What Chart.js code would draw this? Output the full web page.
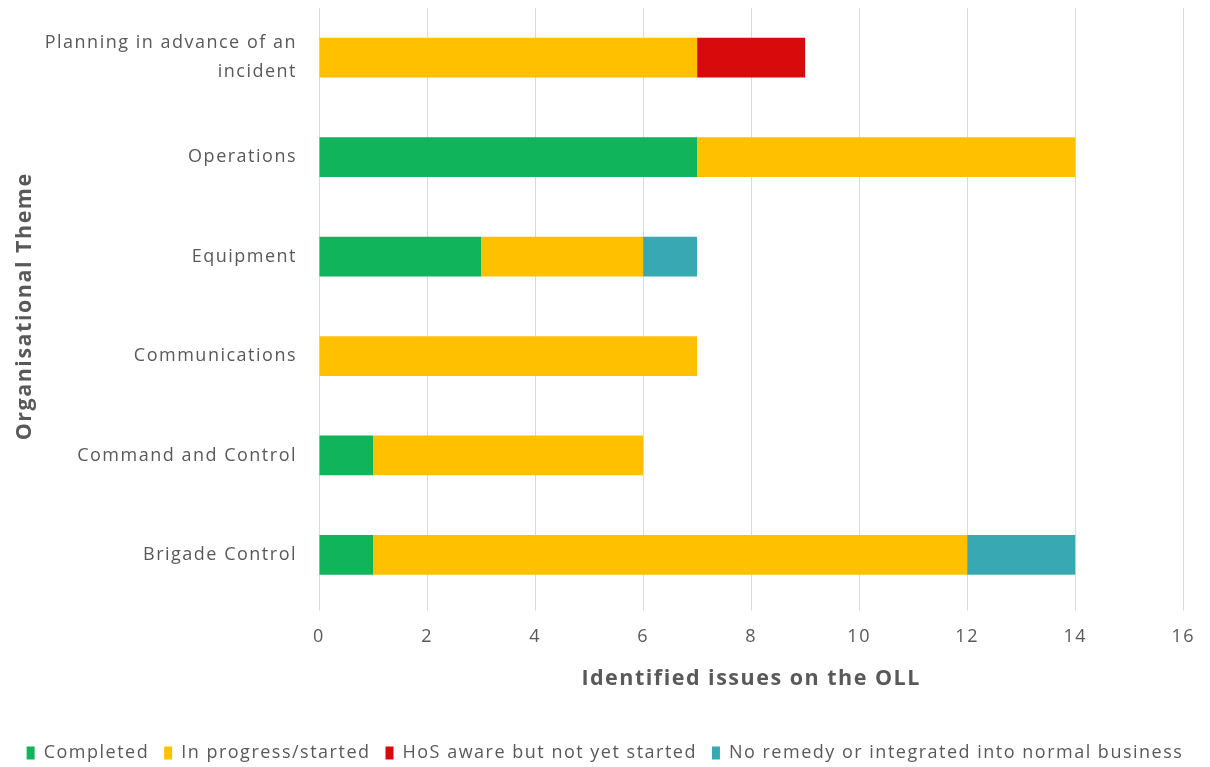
<!DOCTYPE html>
<html>
<head>
<meta charset="utf-8">
<script src="https://cdn.jsdelivr.net/npm/chart.js@4.4.1/dist/chart.umd.min.js"></script>
<style>
  html, body { margin: 0; padding: 0; background: #fff; }
  #wrap { width: 1210px; height: 767px; }
</style>
</head>
<body>
<div id="wrap"><canvas id="oll"></canvas></div>
<script>
// Themes, top to bottom as shown
const themes = [
  ['Planning in advance of an', 'incident'],
  'Operations',
  'Equipment',
  'Communications',
  'Command and Control',
  'Brigade Control'
];

// Issues per status
const completed  = [0, 7, 3, 0, 1, 1];
const inProgress = [7, 7, 3, 7, 5, 11];
const hosAware   = [2, 0, 0, 0, 0, 0];
const noRemedy   = [0, 0, 1, 0, 0, 2];

const xTicks = [0, 2, 4, 6, 8, 10, 12, 14, 16];

const font = "'Open Sans', sans-serif";
const grey = '#595959';

// the original text is set a bit wider than Open Sans, so space the letters out
const letterSpacing = {
  id: 'letterSpacing',
  beforeUpdate(chart) { chart.ctx.letterSpacing = '1.5px'; },
  beforeDraw(chart) { chart.ctx.letterSpacing = '1.5px'; }
};

const ctx = document.getElementById('oll').getContext('2d');
new Chart(ctx, {
  type: 'bar',
  data: {
    labels: themes,
    datasets: [
      { label: 'Completed', data: completed, backgroundColor: '#10b45a' },
      { label: 'In progress/started', data: inProgress, backgroundColor: '#ffc000' },
      { label: 'HoS aware but not yet started', data: hosAware, backgroundColor: '#d90a0c' },
      { label: 'No remedy or integrated into normal business', data: noRemedy, backgroundColor: '#38a9b2' }
    ]
  },
  plugins: [letterSpacing],
  options: {
    indexAxis: 'y',
    responsive: true,
    maintainAspectRatio: false,
    animation: false,
    datasets: { bar: { categoryPercentage: 1, barPercentage: 0.4 } },
    layout: { padding: { top: 8, left: 0, right: 0, bottom: -5 } },
    scales: {
      x: {
        stacked: true,
        min: 0,
        max: 16,
        afterBuildTicks: axis => { axis.ticks = xTicks.map(v => ({ value: v })); },
        grid: { color: '#d9d9d9', drawTicks: true, tickLength: 6 },
        border: { display: false },
        ticks: { color: grey, font: { family: font, size: 18 }, padding: 15 },
        title: {
          display: true,
          text: 'Identified issues on the OLL',
          color: grey,
          font: { family: font, size: 21.5, weight: 'bold' },
          padding: { top: 4, bottom: 37 }
        }
      },
      y: {
        stacked: true,
        afterFit: scale => {
          scale.width = 319;
          scale.paddingTop = 0;
          scale.paddingBottom = 0;
        },
        grid: { display: false, drawTicks: false },
        border: { display: false },
        ticks: { color: grey, font: { family: font, size: 18, lineHeight: 1.6 }, padding: 22 },
        title: {
          display: true,
          text: 'Organisational Theme',
          color: grey,
          font: { family: font, size: 21.5, weight: 'bold' },
          padding: { top: 12, bottom: 0 }
        }
      }
    },
    plugins: {
      legend: {
        position: 'bottom',
        labels: {
          color: grey,
          font: { family: font, size: 18 },
          boxWidth: 8,
          boxHeight: 13,
          padding: 15
        }
      },
      tooltip: { enabled: false }
    }
  }
});
</script>
</body>
</html>
